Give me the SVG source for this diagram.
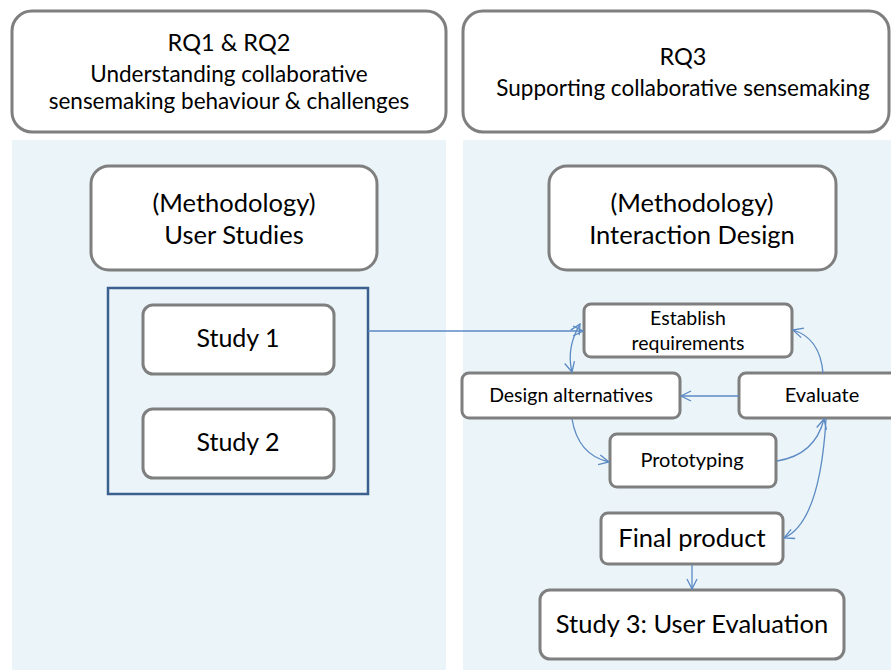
<svg xmlns="http://www.w3.org/2000/svg" width="891" height="670" viewBox="0 0 891 670">
<style>
.panel{fill:#ebf4f8;stroke:none}
.box{fill:#ffffff;stroke:#7f7f7f;stroke-width:3}
.t{font-family:Lato,"Liberation Sans",sans-serif;fill:#000;text-anchor:middle}
.con{fill:none;stroke:#5b8ac4;stroke-width:1.3}
</style>
<defs>
<marker id="arr" viewBox="0 0 12 12" refX="11" refY="6" markerWidth="12" markerHeight="12" markerUnits="userSpaceOnUse" orient="auto-start-reverse">
<path d="M1,1 L11,6 L1,11" fill="none" stroke="#5b8ac4" stroke-width="1.3"/>
</marker>
</defs>
<rect width="891" height="670" fill="#ffffff"/>
<rect class="panel" x="12" y="140" width="434" height="530"/>
<rect class="panel" x="463" y="140" width="428" height="530"/>

<g id="rq12">
<rect class="box" x="12" y="11" width="434" height="121" rx="20"/>
<text class="t" x="229" y="51" font-size="23.5">RQ1 &amp; RQ2</text>
<text class="t" x="229" y="82" font-size="22.5">Understanding collaborative</text>
<text class="t" x="229" y="109" font-size="22.5">sensemaking behaviour &amp; challenges</text>
</g>
<g id="rq3">
<rect class="box" x="463" y="11" width="426" height="121" rx="20"/>
<text class="t" x="683" y="65" font-size="23.5">RQ3</text>
<text class="t" x="683" y="96" font-size="22.5">Supporting collaborative sensemaking</text>
</g>
<g id="meth-user">
<rect class="box" x="91" y="166" width="286" height="104" rx="18"/>
<text class="t" x="234" y="212" font-size="25.5">(Methodology)</text>
<text class="t" x="234" y="244" font-size="25.5">User Studies</text>
</g>
<g id="meth-design">
<rect class="box" x="549" y="166" width="287" height="104" rx="18"/>
<text class="t" x="692" y="212" font-size="25.5">(Methodology)</text>
<text class="t" x="692" y="244" font-size="25.5">Interaction Design</text>
</g>
<g id="studies">
<rect x="108" y="288" width="260" height="206" fill="none" stroke="#3b5f8f" stroke-width="2.5"/>
</g>
<g id="study1">
<rect class="box" x="143" y="305" width="191" height="69" rx="10"/>
<text class="t" x="238" y="347" font-size="25">Study 1</text>
</g>
<g id="study2">
<rect class="box" x="143" y="409" width="191" height="69" rx="10"/>
<text class="t" x="238" y="451" font-size="25">Study 2</text>
</g>
<g id="establish">
<rect class="box" x="584" y="304" width="208" height="53" rx="7"/>
<text class="t" x="688" y="325" font-size="19.5">Establish</text>
<text class="t" x="688" y="350" font-size="19.5">requirements</text>
</g>
<g id="design">
<rect class="box" x="462" y="373" width="218" height="45" rx="7"/>
<text class="t" x="571" y="402" font-size="19.5">Design alternatives</text>
</g>
<g id="evaluate">
<rect class="box" x="739" y="373" width="160" height="45" rx="7"/>
<text class="t" x="822" y="402" font-size="20">Evaluate</text>
</g>
<g id="prototyping">
<rect class="box" x="610" y="434" width="166" height="53" rx="7"/>
<text class="t" x="692" y="467" font-size="20">Prototyping</text>
</g>
<g id="final">
<rect class="box" x="601" y="513" width="182" height="51" rx="7"/>
<text class="t" x="692" y="547" font-size="25.5">Final product</text>
</g>
<g id="study3">
<rect class="box" x="540" y="590" width="304" height="69" rx="10"/>
<text class="t" x="692" y="633" font-size="25.5">Study 3: User Evaluation</text>
</g>

<g id="connectors">
<path class="con" d="M368,331 L583,331" marker-end="url(#arr)"/>
<path class="con" d="M580,324 Q566,348 572,372" marker-start="url(#arr)" marker-end="url(#arr)"/>
<path class="con" d="M739,396 L681,396" marker-end="url(#arr)"/>
<path class="con" d="M572,419 Q578,455 609,462" marker-end="url(#arr)"/>
<path class="con" d="M777,461 Q815,455 824,419" marker-end="url(#arr)"/>
<path class="con" d="M823,373 Q820,338 793,330" marker-end="url(#arr)"/>
<path class="con" d="M826,419 Q820,522 784,538" marker-end="url(#arr)"/>
<path class="con" d="M692,565 L692,589" marker-end="url(#arr)"/>
</g>
</svg>
